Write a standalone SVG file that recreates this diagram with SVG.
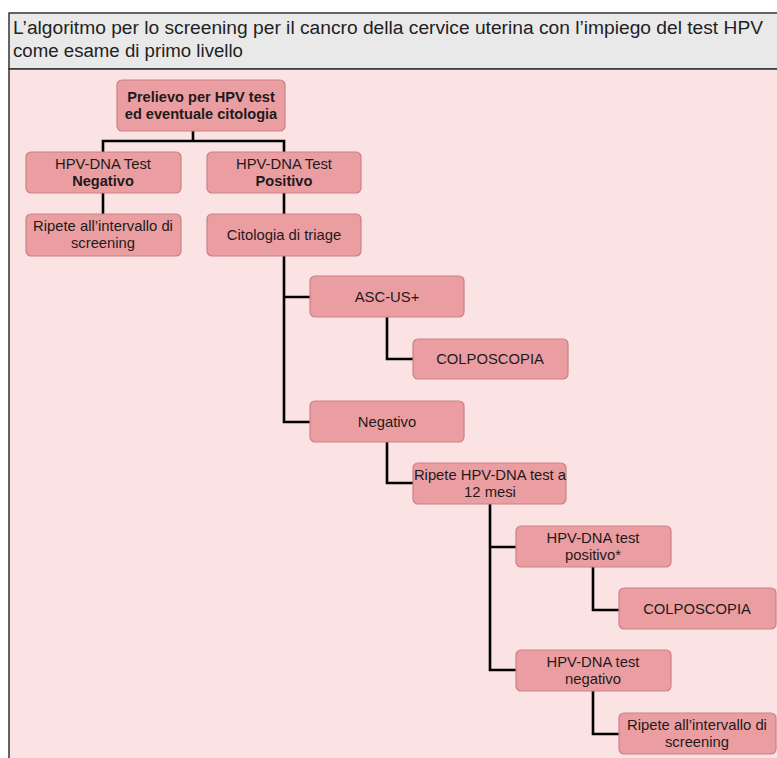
<svg xmlns="http://www.w3.org/2000/svg" width="777" height="758" viewBox="0 0 777 758">
<style>
.box{fill:#eb9ea2;stroke:#c98186;stroke-width:1.2}
.t{font-family:"Liberation Sans",Arial,sans-serif;font-size:14.8px;fill:#1e1a1a;text-anchor:middle}
.b{font-weight:bold;font-size:14.6px}
.c{fill:none;stroke:#000;stroke-width:2.6}
.h{font-family:"Liberation Sans",Arial,sans-serif;font-size:18px;fill:#222}
</style>
<rect x="0" y="0" width="777" height="758" fill="#ffffff"/>
<rect x="9" y="13" width="770" height="56" fill="#e9e9e9" stroke="#333" stroke-width="1.5"/>
<rect x="9" y="69" width="770" height="695" fill="#fbe3e4" stroke="#333" stroke-width="1.5"/>
<text class="h" x="13" y="34" textLength="750" lengthAdjust="spacingAndGlyphs">L’algoritmo per lo screening per il cancro della cervice uterina con l’impiego del test HPV</text>
<text class="h" x="13" y="57" textLength="230" lengthAdjust="spacingAndGlyphs">come esame di primo livello</text>
<g id="connectors">
<path class="c" d="M193,131 V141 M103,152 V141 H284 V152"/>
<path class="c" d="M103,193 V214"/>
<path class="c" d="M284,193 V214"/>
<path class="c" d="M284,256 V422 H310 M284,297 H310"/>
<path class="c" d="M387,317 V359 H413"/>
<path class="c" d="M387,442 V483 H413"/>
<path class="c" d="M490,504 V670 H516 M490,547 H516"/>
<path class="c" d="M593,567 V610 H619"/>
<path class="c" d="M593,691 V734 H619"/>
</g>
<g id="n-prelievo"><rect class="box" x="117" y="80" width="168" height="51" rx="5"/>
<text class="t b" x="201" y="102">Prelievo per HPV test</text><text class="t b" x="201" y="119">ed eventuale citologia</text></g>
<g id="n-neg"><rect class="box" x="26" y="152" width="155" height="41" rx="5"/>
<text class="t" x="103" y="169">HPV-DNA Test</text><text class="t b" x="103" y="186">Negativo</text></g>
<g id="n-pos"><rect class="box" x="207" y="152" width="154" height="41" rx="5"/>
<text class="t" x="284" y="169">HPV-DNA Test</text><text class="t b" x="284" y="186">Positivo</text></g>
<g id="n-ripete1"><rect class="box" x="26" y="214" width="155" height="42" rx="5"/>
<text class="t" x="103" y="231">Ripete all’intervallo di</text><text class="t" x="103" y="248">screening</text></g>
<g id="n-citologia"><rect class="box" x="207" y="214" width="154" height="42" rx="5"/>
<text class="t" x="284" y="240">Citologia di triage</text></g>
<g id="n-ascus"><rect class="box" x="310" y="276" width="154" height="41" rx="5"/>
<text class="t" x="387" y="302">ASC-US+</text></g>
<g id="n-colpo1"><rect class="box" x="413" y="339" width="155" height="40" rx="5"/>
<text class="t" x="490" y="364">COLPOSCOPIA</text></g>
<g id="n-negativo"><rect class="box" x="310" y="401" width="154" height="41" rx="5"/>
<text class="t" x="387" y="427">Negativo</text></g>
<g id="n-ripete12"><rect class="box" x="413" y="463" width="153" height="41" rx="5"/>
<text class="t" x="490" y="480">Ripete HPV-DNA test a</text><text class="t" x="490" y="497">12 mesi</text></g>
<g id="n-testpos"><rect class="box" x="516" y="526" width="155" height="41" rx="5"/>
<text class="t" x="593" y="543">HPV-DNA test</text><text class="t" x="593" y="560">positivo*</text></g>
<g id="n-colpo2"><rect class="box" x="619" y="588" width="157" height="41" rx="5"/>
<text class="t" x="697" y="614">COLPOSCOPIA</text></g>
<g id="n-testneg"><rect class="box" x="516" y="650" width="155" height="41" rx="5"/>
<text class="t" x="593" y="667">HPV-DNA test</text><text class="t" x="593" y="684">negativo</text></g>
<g id="n-ripete2"><rect class="box" x="619" y="713" width="157" height="41" rx="5"/>
<text class="t" x="697" y="730">Ripete all’intervallo di</text><text class="t" x="697" y="747">screening</text></g>
</svg>
